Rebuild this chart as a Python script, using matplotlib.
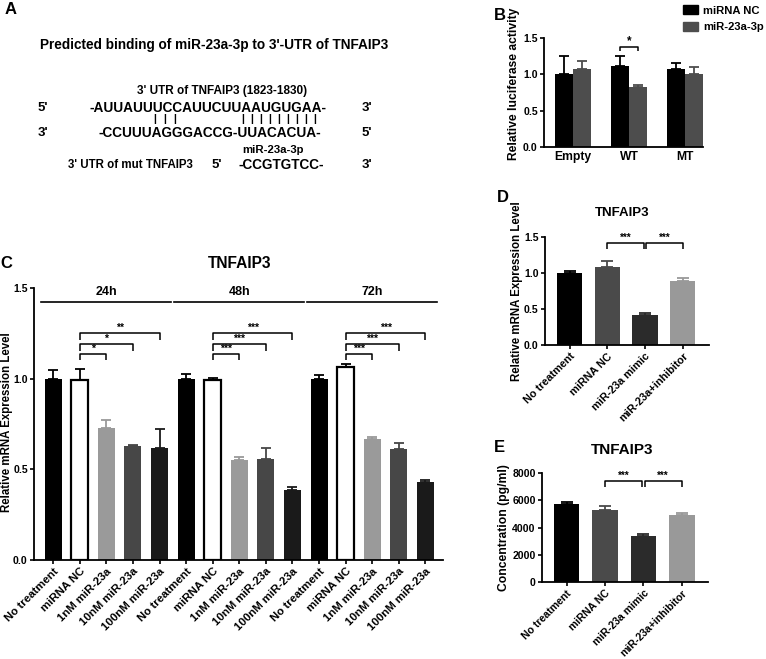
import matplotlib
matplotlib.use("Agg")
import matplotlib.pyplot as plt
import numpy as np
from matplotlib.patches import Patch

plt.rcParams['font.family'] = ['Liberation Sans', 'DejaVu Sans']
plt.rcParams['font.weight'] = 'bold'
plt.rcParams['axes.labelweight'] = 'bold'

W, H = 766, 659

# ---------------- data ----------------
# Panel B
b_groups = ["Empty", "WT", "MT"]
b_series = ["miRNA NC", "miR-23a-3p"]
b_nc = [1.00, 1.12, 1.07]
b_nc_err = [0.25, 0.13, 0.09]
b_mir = [1.07, 0.82, 1.01]
b_mir_err = [0.11, 0.03, 0.09]

# Panel C
c_labels = ["No treatment", "miRNA NC", "1nM miR-23a", "10nM miR-23a", "100nM miR-23a"] * 3
c_times = ["24h", "48h", "72h"]
c_values = [1.00, 0.99, 0.73, 0.63, 0.62,
            1.00, 0.99, 0.55, 0.555, 0.385,
            1.00, 1.065, 0.665, 0.61, 0.43]
c_errors = [0.05, 0.065, 0.04, 0.005, 0.105,
            0.025, 0.015, 0.02, 0.06, 0.015,
            0.02, 0.017, 0.013, 0.037, 0.012]
c_stars = [["*", "*", "**"], ["***", "***", "***"], ["***", "***", "***"]]

# Panel D
d_labels = ["No treatment", "miRNA NC", "miR-23a mimic", "miR-23a+inhibitor"]
d_values = [1.00, 1.085, 0.415, 0.89]
d_errors = [0.02, 0.085, 0.03, 0.04]

# Panel E
e_labels = ["No treatment", "miRNA NC", "miR-23a mimic", "miR-23a+inhibitor"]
e_values = [5700, 5300, 3400, 4950]
e_errors = [200, 290, 150, 80]

# ---------------- helpers ----------------
def fx(x):
    return x / W

def fy(y):
    return 1 - y / H

def rect(x0, x1, y0, y1):
    return [x0 / W, 1 - y1 / H, (x1 - x0) / W, (y1 - y0) / H]

def style_axes(ax, ls=7.6):
    for s in ["top", "right"]:
        ax.spines[s].set_visible(False)
    for s in ["left", "bottom"]:
        ax.spines[s].set_linewidth(1.3)
    ax.tick_params(width=1.2, length=3, labelsize=ls, direction="out", pad=1.5)
    for t in ax.get_yticklabels() + ax.get_xticklabels():
        t.set_fontweight("bold")

def bracket(ax, x1, x2, y, h, text, fs=7):
    ax.plot([x1, x1, x2, x2], [y - h, y, y, y - h], color="black", lw=1.1,
            clip_on=False, solid_capstyle="butt")
    ax.text((x1 + x2) / 2, y, text, ha="center", va="bottom", fontsize=fs,
            fontweight="bold", clip_on=False)

def bars_with_err(ax, x, vals, errs, colors, ecolors, width, edgecolors=None, lws=None, capsize=3.5):
    for i in range(len(vals)):
        ec = edgecolors[i] if edgecolors else colors[i]
        lw = lws[i] if lws else 0
        ax.bar(x[i], vals[i], width=width, color=colors[i], edgecolor=ec, linewidth=lw, zorder=2)
        ax.errorbar(x[i], vals[i], yerr=[[0], [errs[i]]], fmt="none", ecolor=ecolors[i],
                    elinewidth=1.3, capsize=capsize, capthick=1.3, zorder=1)

fig = plt.figure(figsize=(W / 100, H / 100), dpi=100)

# ---------------- Panel A (text) ----------------
fig.text(fx(5), fy(10), "A", fontsize=12, fontweight="bold", ha="left", va="center")
fig.text(fx(214), fy(45), "Predicted binding of miR-23a-3p to 3'-UTR of TNFAIP3",
         fontsize=9.8, fontweight="bold", ha="center", va="center")
fig.text(fx(222), fy(91), "3' UTR of TNFAIP3 (1823-1830)", fontsize=8.5,
         fontweight="bold", ha="center", va="center")
fig.text(fx(43), fy(108), "5'", fontsize=9.5, fontweight="bold", ha="center", va="center")
fig.text(fx(208), fy(108), "-AUUAUUUCCAUUCUUAAUGUGAA-", fontsize=9.8,
         fontweight="bold", ha="center", va="center")
fig.text(fx(367), fy(108), "3'", fontsize=9.5, fontweight="bold", ha="center", va="center")
for px in [155, 165, 175] + [243 + 9 * k for k in range(9)]:
    fig.text(fx(px), fy(119), "|", fontsize=7.5, fontweight="bold", ha="center", va="center")
fig.text(fx(43), fy(133), "3'", fontsize=9.5, fontweight="bold", ha="center", va="center")
fig.text(fx(210), fy(133), "-CCUUUAGGGACCG-UUACACUA-", fontsize=9.8,
         fontweight="bold", ha="center", va="center")
fig.text(fx(367), fy(133), "5'", fontsize=9.5, fontweight="bold", ha="center", va="center")
fig.text(fx(273), fy(150), "miR-23a-3p", fontsize=8.2, fontweight="bold", ha="center", va="center")
fig.text(fx(130), fy(165), "3' UTR of mut TNFAIP3", fontsize=8.3, fontweight="bold",
         ha="center", va="center")
fig.text(fx(217), fy(165), "5'", fontsize=9.5, fontweight="bold", ha="center", va="center")
fig.text(fx(281), fy(165), "-CCGTGTCC-", fontsize=9.8, fontweight="bold", ha="center", va="center")
fig.text(fx(367), fy(165), "3'", fontsize=9.5, fontweight="bold", ha="center", va="center")

# ---------------- Panel B ----------------
axB = fig.add_axes(rect(544, 703, 38, 147))
xb = np.arange(len(b_groups))
bw = 0.32
bars_with_err(axB, xb - bw / 2, b_nc, b_nc_err, ["black"] * 3, ["black"] * 3, bw)
bars_with_err(axB, xb + bw / 2, b_mir, b_mir_err, ["#4d4d4d"] * 3, ["#4d4d4d"] * 3, bw)
axB.set_xlim(-0.52, 2.32)
axB.set_ylim(0, 1.5)
axB.set_yticks([0, 0.5, 1.0, 1.5])
axB.set_yticklabels(["0.0", "0.5", "1.0", "1.5"])
axB.set_xticks(xb)
axB.set_xticklabels(b_groups)
axB.set_ylabel("Relative luciferase activity", fontsize=8.7, fontweight="bold")
axB.yaxis.set_label_coords((520 - 544) / 159, 0.58)
style_axes(axB)
axB.tick_params(axis="x", length=0, labelsize=8.7, pad=3)
bracket(axB, 1 - bw / 2, 1 + bw / 2, 1.38, 0.06, "*", fs=8.5)
legB = axB.legend(handles=[Patch(color="black", label=b_series[0]),
                           Patch(color="#4d4d4d", label=b_series[1])],
                  loc="upper left", bbox_to_anchor=(fx(683), fy(5)),
                  bbox_transform=fig.transFigure, frameon=False, fontsize=8.1,
                  handlelength=1.3, handleheight=0.9, handletextpad=0.5, labelspacing=0.55,
                  borderaxespad=0, borderpad=0)
fig.text(fx(500), fy(15), "B", fontsize=12, fontweight="bold", ha="center", va="center")

# ---------------- Panel C ----------------
axC = fig.add_axes(rect(34, 443, 288, 560))
xc = np.arange(len(c_values))
pat_col = ["black", "white", "#9a9a9a", "#474747", "#1a1a1a"]
pat_ecol = ["black", "black", "#9a9a9a", "#474747", "#1a1a1a"]
pat_lw = [0, 1.6, 0, 0, 0]
colsC = pat_col * 3
ecolsC = pat_ecol * 3
lwsC = pat_lw * 3
bars_with_err(axC, xc, c_values, c_errors, colsC, ecolsC, 0.64,
              edgecolors=ecolsC, lws=lwsC, capsize=3.8)
axC.set_xlim(-0.72, 14.66)
axC.set_ylim(0, 1.5)
axC.set_yticks([0, 0.5, 1.0, 1.5])
axC.set_yticklabels(["0.0", "0.5", "1.0", "1.5"])
axC.set_xticks(xc)
axC.set_xticklabels(c_labels, rotation=45, ha="right", rotation_mode="anchor")
axC.set_ylabel("Relative mRNA Expression Level", fontsize=8.3, fontweight="bold")
axC.yaxis.set_label_coords((13 - 34) / 409, 0.507)
style_axes(axC)
axC.tick_params(axis="x", labelsize=8.2)
for g, t in enumerate(c_times):
    s = g * 5
    axC.plot([s - 0.45, s + 4.45], [1.423, 1.423], color="black", lw=1.2, clip_on=False)
    axC.text(s + 2, 1.478, t, ha="center", va="center", fontsize=9, fontweight="bold")
    for k, y in enumerate([1.136, 1.19, 1.25]):
        bracket(axC, s + 1, s + 2 + k, y, 0.035, c_stars[g][k], fs=7.5)
fig.text(fx(240), fy(264), "TNFAIP3", fontsize=11.2, fontweight="bold", ha="center", va="center")
fig.text(fx(6), fy(264), "C", fontsize=12, fontweight="bold", ha="center", va="center")

# ---------------- Panel D ----------------
axD = fig.add_axes(rect(545, 709, 236.7, 345))
xd = np.arange(len(d_values))
colsD = ["black", "#4a4a4a", "#2b2b2b", "#999999"]
bars_with_err(axD, xd, d_values, d_errors, colsD, colsD, 0.67, capsize=4)
axD.set_xlim(-0.65, 3.7)
axD.set_ylim(0, 1.5)
axD.set_yticks([0, 0.5, 1.0, 1.5])
axD.set_yticklabels(["0.0", "0.5", "1.0", "1.5"])
axD.set_xticks(xd)
axD.set_xticklabels(d_labels, rotation=45, ha="right", rotation_mode="anchor")
axD.set_ylabel("Relative mRNA Expression Level", fontsize=8.3, fontweight="bold")
axD.yaxis.set_label_coords((523 - 545) / 164, 0.5)
style_axes(axD)
axD.tick_params(axis="x", labelsize=7.8)
bracket(axD, 1, 1.97, 1.417, 0.09, "***")
bracket(axD, 2.03, 3, 1.417, 0.09, "***")
fig.text(fx(622), fy(213), "TNFAIP3", fontsize=9.5, fontweight="bold", ha="center", va="center")
fig.text(fx(503), fy(198), "D", fontsize=12, fontweight="bold", ha="center", va="center")

# ---------------- Panel E ----------------
axE = fig.add_axes(rect(542, 708, 473, 582))
xe = np.arange(len(e_values))
bars_with_err(axE, xe, e_values, e_errors, colsD, colsD, 0.67, capsize=4)
axE.set_xlim(-0.64, 3.68)
axE.set_ylim(0, 8000)
axE.set_yticks([0, 2000, 4000, 6000, 8000])
axE.set_xticks(xe)
axE.set_xticklabels(e_labels, rotation=45, ha="right", rotation_mode="anchor")
axE.set_ylabel("Concentration (pg/ml)", fontsize=8.7, fontweight="bold")
axE.yaxis.set_label_coords((510 - 542) / 166, 0.5)
style_axes(axE)
axE.tick_params(axis="x", labelsize=7.6)
bracket(axE, 1, 1.97, 7430, 480, "***")
bracket(axE, 2.03, 3, 7430, 480, "***")
fig.text(fx(622), fy(450), "TNFAIP3", fontsize=11, fontweight="bold", ha="center", va="center")
fig.text(fx(499), fy(448), "E", fontsize=12, fontweight="bold", ha="center", va="center")

fig.savefig("out.png", dpi=100, facecolor="white")
